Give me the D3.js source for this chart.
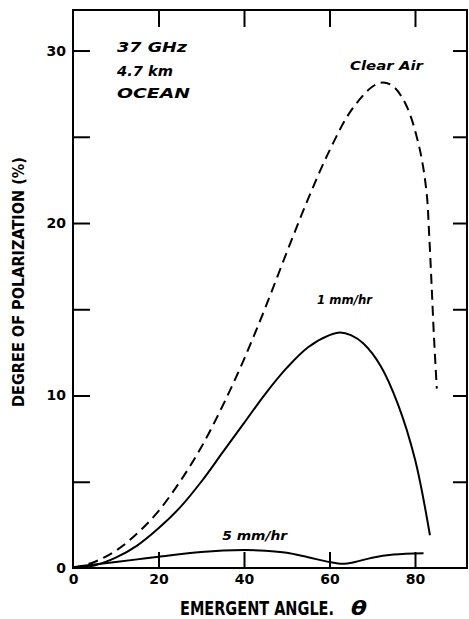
<!DOCTYPE html>
<html>
<head>
<meta charset="utf-8">
<script src="https://cdn.jsdelivr.net/npm/d3@7"></script>
<style>
  body { margin: 0; background: #fff; }
  svg { display: block; }
  .tick text { font-family: "DejaVu Sans", sans-serif; font-weight: bold; font-size: 14px; fill: #000; }
  .tick line { stroke: #000; stroke-width: 2px; }
  .note { font-family: "DejaVu Sans", sans-serif; font-weight: bold; font-style: italic; fill: #000; }
  .title { font-family: "DejaVu Sans Condensed", "Liberation Sans Narrow", "DejaVu Sans", sans-serif; font-weight: bold; font-stretch: condensed; fill: #000; }
</style>
</head>
<body>
<div id="chart"></div>
<script>
// curves: angle (deg) vs degree of polarization (%)
var angleClear = [0, 5, 10, 15, 20, 25, 30, 35, 40, 45, 50, 55, 60, 65, 70, 72.5, 75, 78, 81, 82.7, 83.3, 83.85, 84.4, 85.1];
var polClear   = [0, 0.35, 1.0, 2.0, 3.3, 5.0, 7.0, 9.4, 12.1, 15.1, 18.3, 21.4, 24.2, 26.5, 27.9, 28.15, 27.9, 26.8, 24.4, 21.8, 19.4, 16.6, 13.6, 10.4];

var angleRain1 = [0, 5, 10, 15, 20, 25, 30, 35, 40, 45, 50, 55, 60, 62.5, 65, 68, 72, 76, 80, 83.5];
var polRain1   = [0, 0.15, 0.6, 1.3, 2.3, 3.5, 5.0, 6.7, 8.4, 10.1, 11.6, 12.8, 13.5, 13.65, 13.5, 13.0, 11.7, 9.5, 6.3, 1.9];

var angleRain5 = [0, 5, 10, 15, 20, 30, 40, 45, 50, 55, 60, 63, 66, 70, 75, 82];
var polRain5   = [0.05, 0.2, 0.35, 0.5, 0.65, 0.93, 1.04, 1.0, 0.88, 0.62, 0.35, 0.25, 0.35, 0.6, 0.78, 0.86];

var xTicks = [0, 20, 40, 60, 80];
var yTicks = [0, 5, 10, 15, 20, 25, 30];

var width = 469, height = 619;
var margin = {top: 10, right: 1, bottom: 51, left: 73};

var x = d3.scaleLinear().domain([0, 92.4]).range([margin.left, width - margin.right]);
var y = d3.scaleLinear().domain([0, 32.35]).range([height - margin.bottom, margin.top]);

var svg = d3.select("#chart").append("svg")
    .attr("width", width)
    .attr("height", height);

// axes (ticks point inwards)
var gx = svg.append("g")
    .attr("transform", "translate(0," + y(0) + ")")
    .call(d3.axisBottom(x).tickValues(xTicks).tickSizeInner(-16).tickSizeOuter(0).tickPadding(6));

var gy = svg.append("g")
    .attr("transform", "translate(" + x(0) + ",0)")
    .call(d3.axisLeft(y).tickValues(yTicks).tickSizeInner(-17).tickSizeOuter(0).tickPadding(7)
      .tickFormat(function(d) { return d % 10 === 0 ? d : ""; }));

var gt = svg.append("g")
    .attr("transform", "translate(0," + y.range()[1] + ")")
    .call(d3.axisTop(x).tickValues(xTicks.slice(1)).tickSizeInner(-17).tickSizeOuter(0).tickFormat(""));

var gr = svg.append("g")
    .attr("transform", "translate(" + x.range()[1] + ",0)")
    .call(d3.axisRight(y).tickValues(yTicks.slice(1)).tickSizeInner(-15).tickSizeOuter(0).tickFormat(""));

svg.selectAll(".domain").remove();
gx.selectAll(".tick").filter(function(d) { return d === 0; }).select("line").remove();
gy.selectAll(".tick").filter(function(d) { return d === 0; }).select("line").remove();

// frame
svg.append("rect")
    .attr("x", x(0))
    .attr("y", y.range()[1])
    .attr("width", x.range()[1] - x(0) - 1)
    .attr("height", y(0) - y.range()[1])
    .attr("fill", "none")
    .attr("stroke", "#000")
    .attr("stroke-width", 2);

// curves
var line = d3.line()
    .x(function(d) { return x(d[0]); })
    .y(function(d) { return y(d[1]); })
    .curve(d3.curveCatmullRom.alpha(0.5));

function draw(angles, vals, dash) {
  svg.append("path")
      .datum(d3.zip(angles, vals))
      .attr("d", line)
      .attr("fill", "none")
      .attr("stroke", "#000")
      .attr("stroke-width", 2)
      .attr("stroke-dasharray", dash);
}
draw(angleClear, polClear, "10,6");
draw(angleRain1, polRain1, null);
draw(angleRain5, polRain5, null);

// labels
function note(t, a, p, size, len) {
  svg.append("text")
      .attr("class", "note")
      .attr("x", x(a))
      .attr("y", y(p))
      .attr("font-size", size)
      .attr("textLength", len)
      .attr("lengthAdjust", "spacingAndGlyphs")
      .text(t);
}
note("37 GHz", 10.3, 29.9, 14, 70);
note("4.7 km", 10.3, 28.5, 14, 56);
note("OCEAN", 10.3, 27.25, 14, 73);
note("Clear Air", 64.8, 28.9, 13, 73);
note("1 mm/hr", 57.1, 15.3, 13, 55);
note("5 mm/hr", 34.9, 1.65, 13, 65);

// axis titles
svg.append("text")
    .attr("class", "title")
    .attr("x", 180)
    .attr("y", 615)
    .attr("font-size", 20)
    .attr("textLength", 154)
    .attr("lengthAdjust", "spacingAndGlyphs")
    .text("EMERGENT ANGLE.");

svg.append("text")
    .attr("class", "title")
    .attr("x", 351)
    .attr("y", 615)
    .attr("font-size", 20)
    .attr("font-style", "italic")
    .attr("textLength", 16)
    .attr("lengthAdjust", "spacingAndGlyphs")
    .text("θ");

svg.append("text")
    .attr("class", "title")
    .attr("transform", "translate(24,282) rotate(-90)")
    .attr("text-anchor", "middle")
    .attr("font-size", 15)
    .attr("textLength", 250)
    .attr("lengthAdjust", "spacingAndGlyphs")
    .text("DEGREE OF POLARIZATION (%)");
</script>
</body>
</html>
